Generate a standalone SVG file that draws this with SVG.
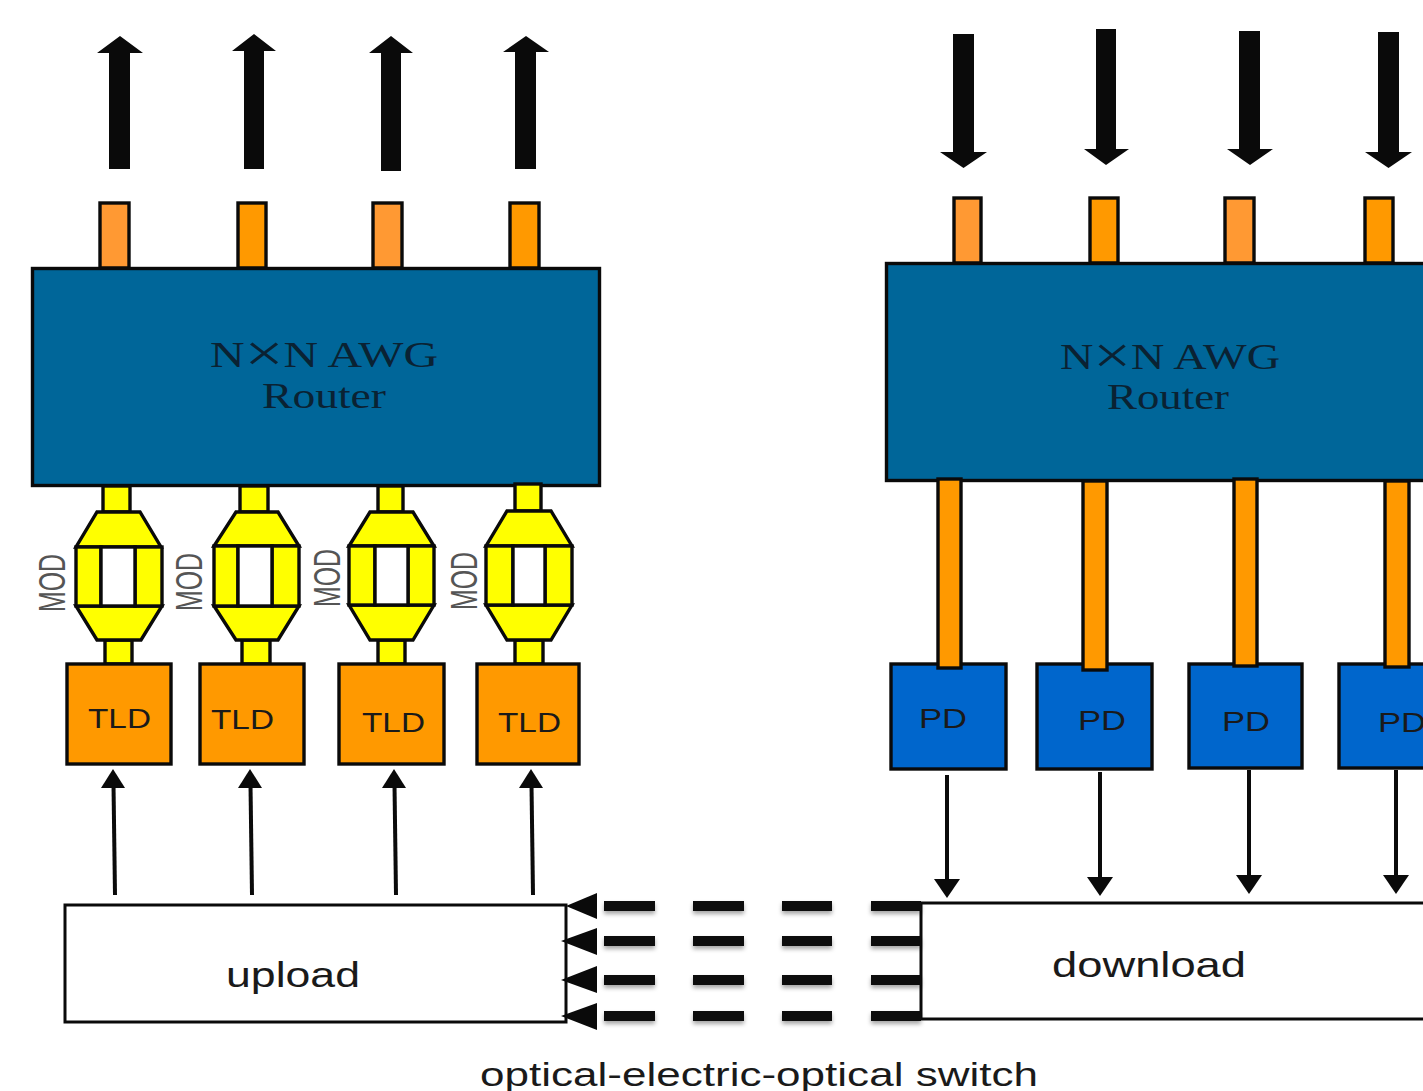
<svg xmlns="http://www.w3.org/2000/svg" width="1423" height="1091" viewBox="0 0 1423 1091">
<style>
.k{stroke:#0a0a0a;stroke-width:3.400;stroke-linejoin:miter}
.ol{fill:#f93}.o{fill:#f90}.y{fill:#ff0}.w{fill:#fff}.bl{fill:#06c}.r{fill:#069}
.blk{fill:#0a0a0a}
.thin{stroke:#0a0a0a;stroke-width:4;fill:none}
.sans{font-family:"Liberation Sans",Arial,sans-serif;fill:#1a1a1a}
.serif{font-family:"Liberation Serif","Times New Roman",serif;fill:#0a2233;font-size:36px}
.x{font-size:52px;font-weight:normal}
.mod{font-size:36px;fill:#555}
</style>
<defs>
<filter id="sh" x="-20%" y="-60%" width="140%" height="260%"><feDropShadow dx="0" dy="3" stdDeviation="2" flood-color="#000" flood-opacity="0.35"/></filter>
</defs>
<rect width="1423" height="1091" fill="#fff"/>

<g id="router-left">
<rect class="k ol" x="100" y="203" width="29" height="65"/>
<rect class="k o" x="238" y="203" width="28" height="65"/>
<rect class="k ol" x="373" y="203" width="29" height="65"/>
<rect class="k o" x="510" y="203" width="29" height="65"/>
<rect class="k r" x="32.500" y="268.500" width="567" height="217"/>
<text class="serif" x="210" y="367" textLength="228" lengthAdjust="spacingAndGlyphs">N<tspan class="x" dy="4">×</tspan><tspan dy="-4">N AWG</tspan></text>
<text class="serif" x="262" y="408" textLength="124" lengthAdjust="spacingAndGlyphs">Router</text>
</g>

<g id="router-right">
<rect class="k ol" x="954" y="198" width="27" height="65"/>
<rect class="k o" x="1090" y="198" width="28" height="65"/>
<rect class="k ol" x="1225" y="198" width="29" height="65"/>
<rect class="k o" x="1365" y="198" width="28" height="65"/>
<rect class="k r" x="886.500" y="263.500" width="560" height="217"/>
<text class="serif" x="1060" y="369" textLength="220" lengthAdjust="spacingAndGlyphs">N<tspan class="x" dy="4">×</tspan><tspan dy="-4">N AWG</tspan></text>
<text class="serif" x="1107" y="409" textLength="122" lengthAdjust="spacingAndGlyphs">Router</text>
</g>

<g id="mod-1">
<rect class="k y" x="103" y="486" width="27" height="26"/>
<rect class="k y" x="105" y="640" width="27" height="24"/>
<path class="k y" d="M97 512H140L161 547H76Z"/>
<path class="k y" d="M76 606H162L141 640H97Z"/>
<rect class="k y" x="76" y="547" width="25" height="59"/>
<rect class="k y" x="135" y="547" width="27" height="59"/>
<rect class="k w" x="101" y="547" width="34" height="59"/>
<text class="sans mod" transform="translate(65,612) rotate(-90)" textLength="58" lengthAdjust="spacingAndGlyphs">MOD</text>
</g>
<g id="mod-2">
<rect class="k y" x="240" y="486" width="28" height="26"/>
<rect class="k y" x="242" y="640" width="28" height="24"/>
<path class="k y" d="M236 512H278L299 546H214Z"/>
<path class="k y" d="M214 606H299L278 640H236Z"/>
<rect class="k y" x="214" y="546" width="24" height="60"/>
<rect class="k y" x="272" y="546" width="27" height="60"/>
<rect class="k w" x="238" y="546" width="34" height="60"/>
<text class="sans mod" transform="translate(202,611) rotate(-90)" textLength="58" lengthAdjust="spacingAndGlyphs">MOD</text>
</g>
<g id="mod-3">
<rect class="k y" x="378" y="486" width="25" height="26"/>
<rect class="k y" x="378" y="640" width="27" height="24"/>
<path class="k y" d="M370 512H413L434 546H349Z"/>
<path class="k y" d="M349 605H434L413 640H370Z"/>
<rect class="k y" x="349" y="546" width="26" height="59"/>
<rect class="k y" x="408" y="546" width="26" height="59"/>
<rect class="k w" x="375" y="546" width="33" height="59"/>
<text class="sans mod" transform="translate(340,607) rotate(-90)" textLength="58" lengthAdjust="spacingAndGlyphs">MOD</text>
</g>
<g id="mod-4">
<rect class="k y" x="515" y="484" width="26" height="27"/>
<rect class="k y" x="515" y="640" width="28" height="24"/>
<path class="k y" d="M507 511H551L572 546H486Z"/>
<path class="k y" d="M486 605H572L551 640H507Z"/>
<rect class="k y" x="486" y="546" width="27" height="59"/>
<rect class="k y" x="545" y="546" width="27" height="59"/>
<rect class="k w" x="513" y="546" width="32" height="59"/>
<text class="sans mod" transform="translate(477,610) rotate(-90)" textLength="58" lengthAdjust="spacingAndGlyphs">MOD</text>
</g>

<g id="tld-1"><rect class="k o" x="67" y="664" width="104" height="100"/><text class="sans" font-size="28" x="88" y="728" textLength="63" lengthAdjust="spacingAndGlyphs">TLD</text></g>
<g id="tld-2"><rect class="k o" x="200" y="664" width="104" height="100"/><text class="sans" font-size="28" x="211" y="729" textLength="63" lengthAdjust="spacingAndGlyphs">TLD</text></g>
<g id="tld-3"><rect class="k o" x="339" y="664" width="105" height="100"/><text class="sans" font-size="28" x="362" y="732" textLength="63" lengthAdjust="spacingAndGlyphs">TLD</text></g>
<g id="tld-4"><rect class="k o" x="477" y="664" width="102" height="100"/><text class="sans" font-size="28" x="498" y="732" textLength="63" lengthAdjust="spacingAndGlyphs">TLD</text></g>

<g id="pd-1"><rect class="k bl" x="891" y="664" width="115" height="105"/><text class="sans" font-size="28" x="919" y="728" textLength="48" lengthAdjust="spacingAndGlyphs">PD</text></g>
<g id="pd-2"><rect class="k bl" x="1037" y="664" width="115" height="105"/><text class="sans" font-size="28" x="1078" y="730" textLength="48" lengthAdjust="spacingAndGlyphs">PD</text></g>
<g id="pd-3"><rect class="k bl" x="1189" y="664" width="113" height="104"/><text class="sans" font-size="28" x="1222" y="731" textLength="48" lengthAdjust="spacingAndGlyphs">PD</text></g>
<g id="pd-4"><rect class="k bl" x="1339" y="664" width="110" height="104"/><text class="sans" font-size="28" x="1378" y="732" textLength="48" lengthAdjust="spacingAndGlyphs">PD</text></g>

<g id="router-right-fibres">
<rect class="k o" x="938" y="479" width="23" height="189"/>
<rect class="k o" x="1083" y="481" width="24" height="189"/>
<rect class="k o" x="1234" y="479" width="23" height="187"/>
<rect class="k o" x="1385" y="481" width="24" height="186"/>
</g>

<g id="upload"><rect x="65" y="905" width="501" height="117" fill="#fff" stroke="#0a0a0a" stroke-width="3"/><text class="sans" font-size="35" x="226" y="987" textLength="134" lengthAdjust="spacingAndGlyphs">upload</text></g>
<g id="download"><rect x="921" y="903" width="520" height="116" fill="#fff" stroke="#0a0a0a" stroke-width="3"/><text class="sans" font-size="35" x="1052" y="977" textLength="194" lengthAdjust="spacingAndGlyphs">download</text></g>

<g id="connectors">
<g class="blk">
<path d="M109 169V53H97L120 36L143 53H130V169Z"/>
<path d="M244 169V51H232L254 34L276 51H264V169Z"/>
<path d="M381 171V53H369L391 36L413 53H401V171Z"/>
<path d="M515 169V52H503L526 36L549 52H536V169Z"/>
<path d="M953 34V152H940L963.500 168L987 152H974V34Z"/>
<path d="M1096 29V149H1084L1106 165L1129 149H1116V29Z"/>
<path d="M1239 31V149H1227L1250 165L1273 149H1260V31Z"/>
<path d="M1378 32V152H1365L1388.500 168L1412 152H1399V32Z"/>
</g>
<g class="thin">
<path d="M115 895L113.500 785"/><path d="M252 895L250.500 785"/><path d="M396 895L394.500 785"/><path d="M533 895L531.500 785"/>
<path d="M947 775V882"/><path d="M1100 772V880"/><path d="M1249 770V878"/><path d="M1396 770V878"/>
</g>
<g class="blk">
<path d="M113 769L125 788H101Z"/><path d="M250 769L262 788H238Z"/><path d="M394 769L406 788H382Z"/><path d="M531 769L543 788H519Z"/>
<path d="M947 898L960 879H934Z"/><path d="M1100 896L1113 877H1087Z"/><path d="M1249 894L1262 875H1236Z"/><path d="M1396 894L1409 875H1383Z"/>
</g>
<g class="blk">
<path d="M566 906L597 893V919Z"/><path d="M561 941L597 928V955Z"/><path d="M561 980L597 966V993Z"/><path d="M561 1016L597 1003V1030Z"/>
</g>
<g class="blk" filter="url(#sh)">
<rect x="604" y="901" width="51" height="10"/><rect x="693" y="901" width="51" height="10"/><rect x="782" y="901" width="50" height="10"/><rect x="871" y="901" width="50" height="10"/>
<rect x="604" y="936" width="51" height="10"/><rect x="693" y="936" width="51" height="10"/><rect x="782" y="936" width="50" height="10"/><rect x="871" y="936" width="50" height="10"/>
<rect x="604" y="975" width="51" height="10"/><rect x="693" y="975" width="51" height="10"/><rect x="782" y="975" width="50" height="10"/><rect x="871" y="975" width="50" height="10"/>
<rect x="604" y="1011" width="51" height="10"/><rect x="693" y="1011" width="51" height="10"/><rect x="782" y="1011" width="50" height="10"/><rect x="871" y="1011" width="50" height="10"/>
</g>
</g>
<text class="sans" font-size="34" x="480" y="1086" textLength="558" lengthAdjust="spacingAndGlyphs">optical-electric-optical switch</text>
</svg>
